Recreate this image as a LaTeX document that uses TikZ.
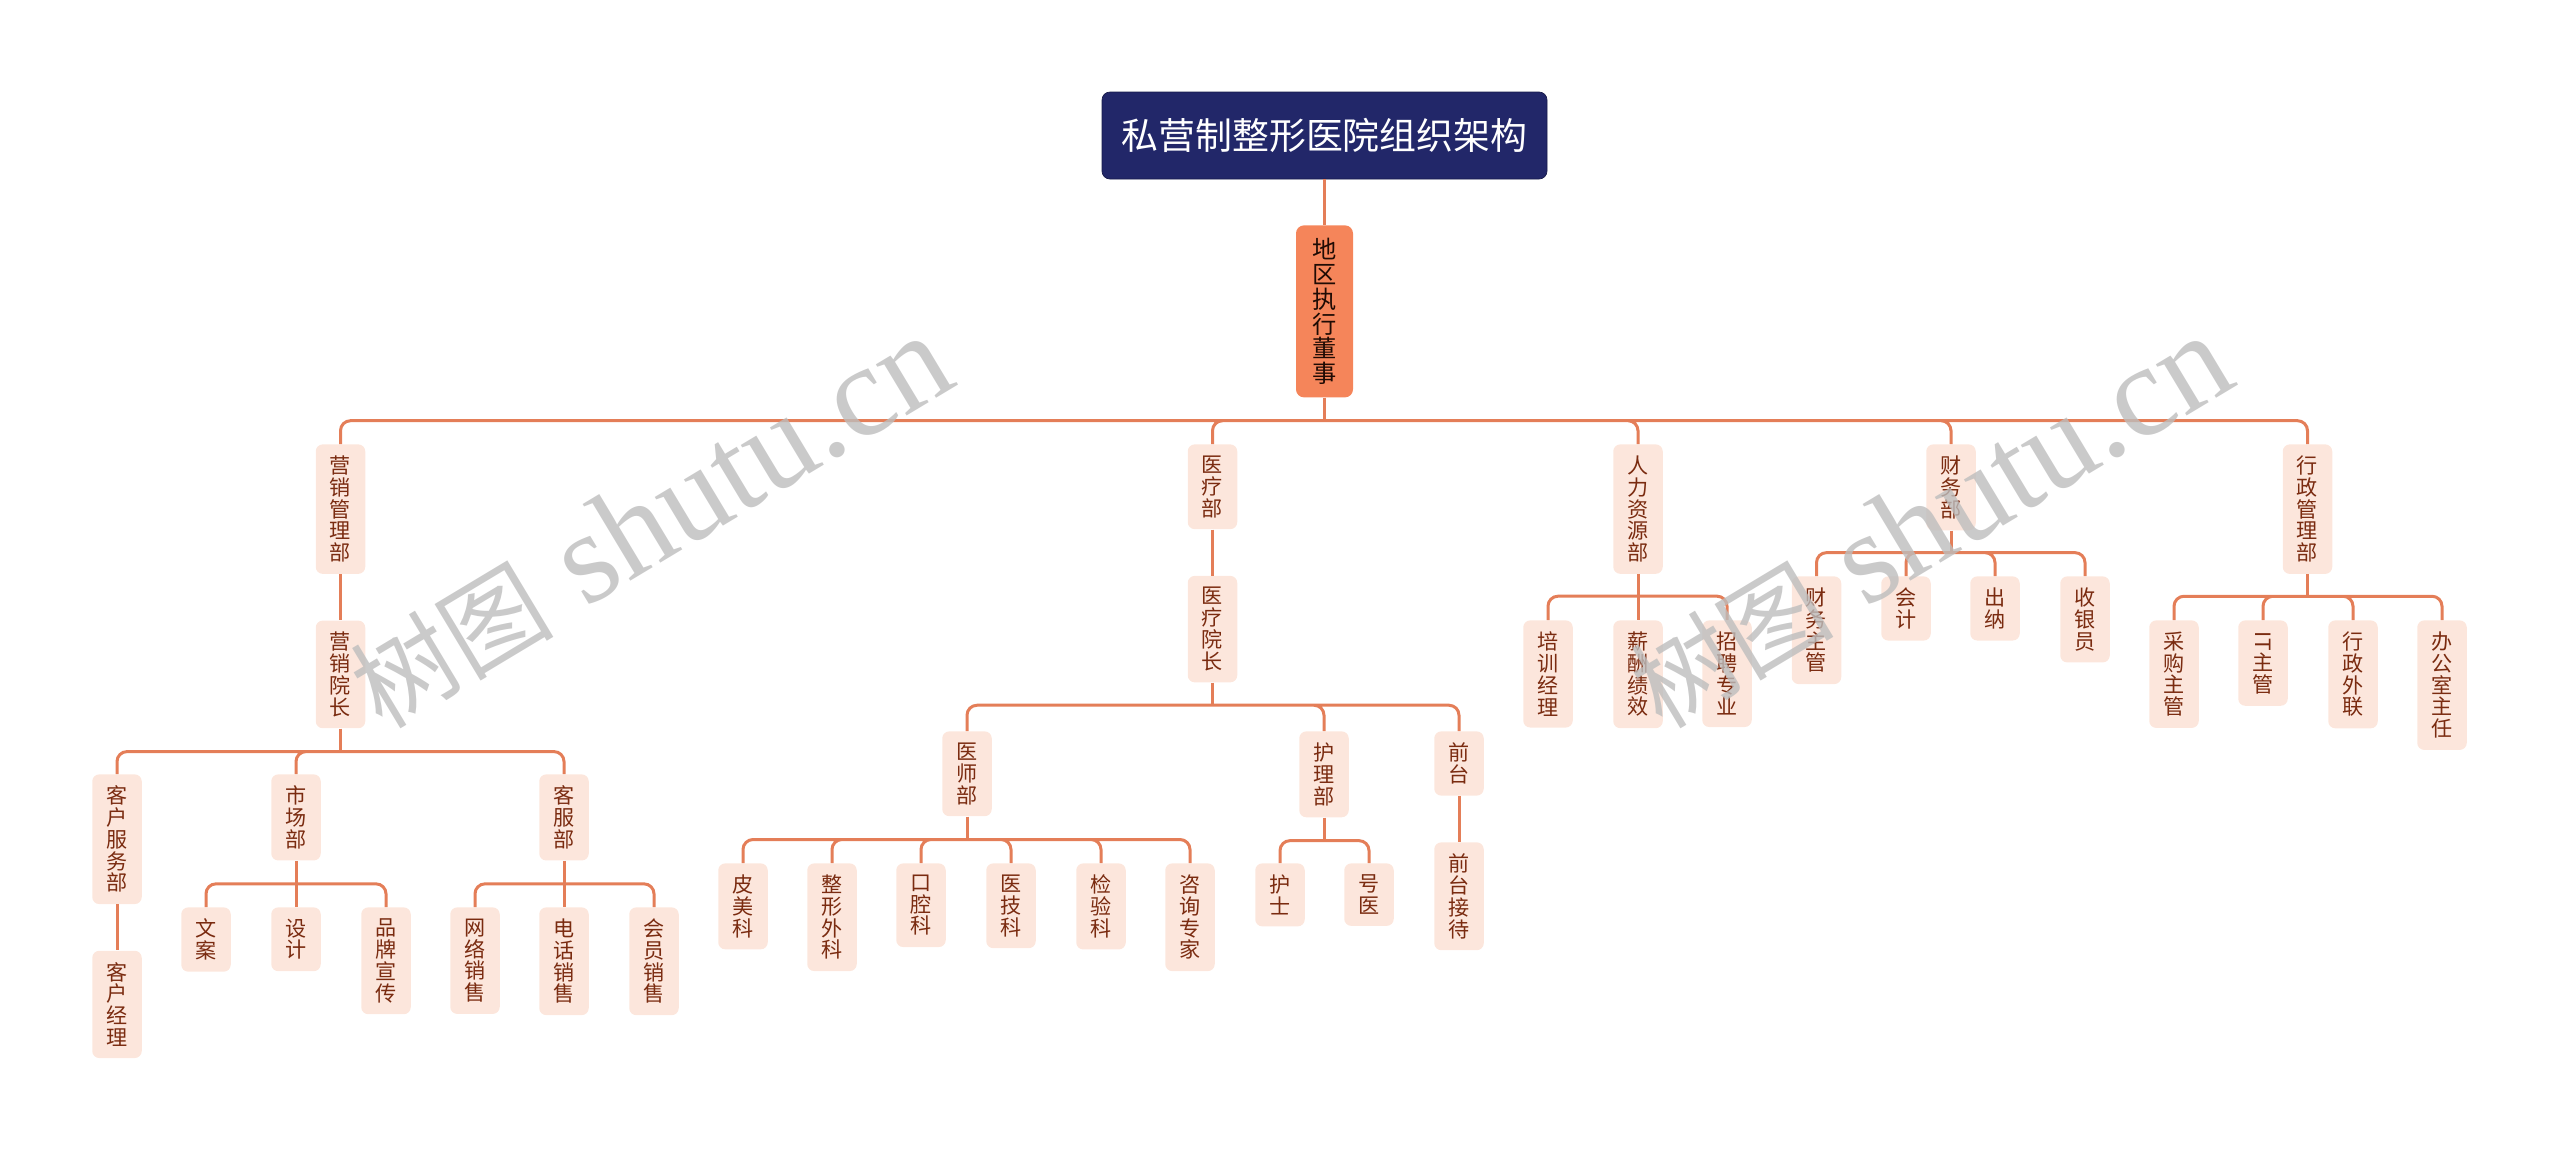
\documentclass[tikz,border=0pt]{standalone}
\usepackage{fontspec}
\setmainfont{Liberation Serif}
\newfontfamily\cjk{Noto Sans CJK SC}
\usepackage{tikz}
\usetikzlibrary{positioning}
\definecolor{OrgNavy}{HTML}{222769}
\definecolor{OrgOrange}{HTML}{F5855A}
\definecolor{OrgPale}{HTML}{FCE6DC}
\definecolor{OrgLine}{HTML}{E47E58}
\definecolor{OrgText}{HTML}{7A2B10}
\definecolor{OrgMark}{HTML}{BDBDBD}

\begin{document}
\begin{tikzpicture}[x=0.2mm,y=-0.2mm,node distance=9.2mm]
  \tikzstyle{titlebox}=[fill=OrgNavy,draw=OrgNavy!70!black,rounded corners=1.6mm,
    minimum width=89mm,minimum height=17.4mm,text=white,
    font=\cjk\fontsize{21}{22}\selectfont]
  \tikzstyle{headbox}=[fill=OrgOrange,rounded corners=1.6mm,minimum width=11.4mm,
    minimum height=34.4mm,inner xsep=0pt,align=center,anchor=north,
    text=black!75!OrgText,font=\cjk\fontsize{13.8}{14.2}\selectfont]
  \tikzstyle{unit}=[fill=OrgPale,rounded corners=1.4mm,minimum width=9.9mm,
    inner xsep=0pt,inner ysep=2.3mm,align=center,anchor=north,
    text=OrgText,font=\cjk\fontsize{12}{12.4}\selectfont]
  \tikzstyle{link}=[draw=OrgLine,line width=0.6mm]
  \tikzstyle{bus}=[link,rounded corners=2mm]
  \tikzstyle{watermark}=[text=OrgMark,text opacity=0.8,rotate=31,
    font=\fontsize{74}{74}\selectfont]
  \useasboundingbox (0,0) rectangle (2560,1151);

  \node[titlebox] (title) at (1324.5,135.5) {私营制整形医院组织架构};
  \node[headbox] (head) at (1324.5,225) {地\\区\\执\\行\\董\\事};

  % departments
  \node[unit] (yxgl) at (340.5,444) {营\\销\\管\\理\\部};
  \node[unit] (ylb) at (1212.5,444) {医\\疗\\部};
  \node[unit] (rlzy) at (1638,444) {人\\力\\资\\源\\部};
  \node[unit] (cwb) at (1951,444) {财\\务\\部};
  \node[unit] (xzgl) at (2307.5,444) {行\\政\\管\\理\\部};

  % marketing
  \node[unit,below=of yxgl] (yxyz) {营\\销\\院\\长};
  \node[unit] (khfw) at (117,774) {客\\户\\服\\务\\部};
  \node[unit,below=of khfw] (khjl) {客\\户\\经\\理};
  \node[unit] (scb) at (296,774) {市\\场\\部};
  \node[unit] (kfb) at (564,774) {客\\服\\部};
  \node[unit] (wa) at (206,907) {文\\案};
  \node[unit] (sj) at (296,907) {设\\计};
  \node[unit] (ppxc) at (386,907) {品\\牌\\宣\\传};
  \node[unit] (wlxs) at (475,907) {网\\络\\销\\售};
  \node[unit] (dhxs) at (564,907) {电\\话\\销\\售};
  \node[unit] (hyxs) at (654,907) {会\\员\\销\\售};

  % medical
  \node[unit,below=of ylb] (ylyz) {医\\疗\\院\\长};
  \node[unit] (ysb) at (967,731) {医\\师\\部};
  \node[unit] (hlb) at (1324,731) {护\\理\\部};
  \node[unit] (qt) at (1459,731) {前\\台};
  \node[unit,below=of qt] (qtjd) {前\\台\\接\\待};
  \node[unit] (pmk) at (743,863) {皮\\美\\科};
  \node[unit] (zxwk) at (832,863) {整\\形\\外\\科};
  \node[unit] (kqk) at (921,863) {口\\腔\\科};
  \node[unit] (yjk) at (1011,863) {医\\技\\科};
  \node[unit] (jyk) at (1101,863) {检\\验\\科};
  \node[unit] (zxzj) at (1190,863) {咨\\询\\专\\家};
  \node[unit] (hs) at (1280,863) {护\\士};
  \node[unit] (hy) at (1369,863) {号\\医};

  % hr, finance, admin
  \node[unit] (pxjl) at (1548,620) {培\\训\\经\\理};
  \node[unit] (xcjx) at (1638,620) {薪\\酬\\绩\\效};
  \node[unit] (zpzy) at (1727,620) {招\\聘\\专\\业};
  \node[unit] (cwzg) at (1816.5,576) {财\\务\\主\\管};
  \node[unit] (kj) at (1906,576) {会\\计};
  \node[unit] (cn) at (1995,576) {出\\纳};
  \node[unit] (syy) at (2085,576) {收\\银\\员};
  \node[unit] (cgzg) at (2174,620) {采\\购\\主\\管};
  \node[unit] (itzg) at (2263,620) {\rotatebox[origin=c]{-90}{IT}\\主\\管};
  \node[unit] (xzwl) at (2353,620) {行\\政\\外\\联};
  \node[unit] (bgszr) at (2442,620) {办\\公\\室\\主\\任};

  % connectors
  \draw[link] (title) -- (head);
  \draw[link] (head.south) -- ++(0,23) coordinate (headB);
  \draw[bus] (headB) -| (yxgl.north) (headB) -| (ylb.north) (headB) -| (rlzy.north)
    (headB) -| (cwb.north) (headB) -| (xzgl.north);
  \draw[link] (yxgl) -- (yxyz);
  \draw[link] (yxyz.south) -- ++(0,23) coordinate (yxyzB);
  \draw[bus] (yxyzB) -| (khfw.north) (yxyzB) -| (scb.north) (yxyzB) -| (kfb.north);
  \draw[link] (khfw) -- (khjl);
  \draw[link] (scb.south) -- ++(0,23) coordinate (scbB) -- (sj.north);
  \draw[bus] (scbB) -| (wa.north) (scbB) -| (ppxc.north);
  \draw[link] (kfb.south) -- ++(0,23) coordinate (kfbB) -- (dhxs.north);
  \draw[bus] (kfbB) -| (wlxs.north) (kfbB) -| (hyxs.north);
  \draw[link] (ylb) -- (ylyz);
  \draw[link] (ylyz.south) -- ++(0,22.5) coordinate (ylyzB);
  \draw[bus] (ylyzB) -| (ysb.north) (ylyzB) -| (hlb.north) (ylyzB) -| (qt.north);
  \draw[link] (qt) -- (qtjd);
  \draw[link] (ysb.south) -- ++(0,23) coordinate (ysbB);
  \draw[bus] (ysbB) -| (pmk.north) (ysbB) -| (zxwk.north) (ysbB) -| (kqk.north)
    (ysbB) -| (yjk.north) (ysbB) -| (jyk.north) (ysbB) -| (zxzj.north);
  \draw[link] (hlb.south) -- ++(0,23) coordinate (hlbB);
  \draw[bus] (hlbB) -| (hs.north) (hlbB) -| (hy.north);
  \draw[link] (rlzy.south) -- ++(0,22) coordinate (rlzyB) -- (xcjx.north);
  \draw[bus] (rlzyB) -| (pxjl.north) (rlzyB) -| (zpzy.north);
  \draw[link] (cwb.south) -- ++(0,22) coordinate (cwbB);
  \draw[bus] (cwbB) -| (cwzg.north) (cwbB) -| (kj.north) (cwbB) -| (cn.north)
    (cwbB) -| (syy.north);
  \draw[link] (xzgl.south) -- ++(0,22) coordinate (xzglB);
  \draw[bus] (xzglB) -| (cgzg.north) (xzglB) -| (itzg.north) (xzglB) -| (xzwl.north)
    (xzglB) -| (bgszr.north);

  % watermarks
  \node[watermark] (wmleft) at (650,522) {{\cjk\fontsize{58}{58}\selectfont 树图} shutu.cn};
  \node[watermark] (wmright) at (1930,522) {{\cjk\fontsize{58}{58}\selectfont 树图} shutu.cn};
\end{tikzpicture}
\end{document}
